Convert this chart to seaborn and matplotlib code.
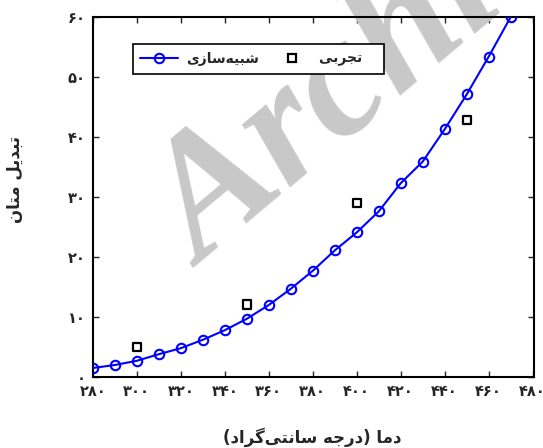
import matplotlib
matplotlib.use("Agg")
import matplotlib.pyplot as plt
import seaborn as sns
import pandas as pd
from matplotlib.lines import Line2D

# ---- data ----
sim_temp = [280, 290, 300, 310, 320, 330, 340, 350, 360, 370,
            380, 390, 400, 410, 420, 430, 440, 450, 460, 470]
sim_conv = [1.5, 2.0, 2.7, 3.8, 4.8, 6.2, 7.8, 9.7, 12.0, 14.7,
            17.7, 21.1, 24.1, 27.6, 32.3, 35.9, 41.3, 47.1, 53.4, 60.0]
exp_temp = [300, 350, 400, 450]
exp_conv = [5.0, 12.1, 29.0, 42.8]
x_ticks = [280, 300, 320, 340, 360, 380, 400, 420, 440, 460, 480]
y_ticks = [0, 10, 20, 30, 40, 50, 60]
label_sim = "شبیه‌سازی"
label_exp = "تجربی"
x_label = "دما (درجه سانتی‌گراد)"
y_label = "تبدیل متان"

# ---- minimal Arabic-script shaping for matplotlib ----
FORMS = {
    'ا': ('\uFE8D', '\uFE8E', None, None),
    'ب': ('\uFE8F', '\uFE90', '\uFE91', '\uFE92'),
    'ت': ('\uFE95', '\uFE96', '\uFE97', '\uFE98'),
    'ج': ('\uFE9D', '\uFE9E', '\uFE9F', '\uFEA0'),
    'د': ('\uFEA9', '\uFEAA', None, None),
    'ر': ('\uFEAD', '\uFEAE', None, None),
    'ز': ('\uFEAF', '\uFEB0', None, None),
    'س': ('\uFEB1', '\uFEB2', '\uFEB3', '\uFEB4'),
    'ش': ('\uFEB5', '\uFEB6', '\uFEB7', '\uFEB8'),
    'ل': ('\uFEDD', '\uFEDE', '\uFEDF', '\uFEE0'),
    'م': ('\uFEE1', '\uFEE2', '\uFEE3', '\uFEE4'),
    'ن': ('\uFEE5', '\uFEE6', '\uFEE7', '\uFEE8'),
    'ه': ('\uFEE9', '\uFEEA', '\uFEEB', '\uFEEC'),
    'ی': ('\uFEEF', '\uFEF0', '\uFEF3', '\uFEF4'),
    'گ': ('\uFB92', '\uFB93', '\uFB94', '\uFB95'),
}


def fa(s):
    out = []
    for i, c in enumerate(s):
        if c not in FORMS:
            out.append(c)
            continue
        prev = s[i - 1] if i > 0 else None
        nxt = s[i + 1] if i + 1 < len(s) else None
        jp = prev in FORMS and FORMS[prev][2] is not None
        jn = FORMS[c][2] is not None and nxt in FORMS
        iso, fin, ini, med = FORMS[c]
        if jp and jn:
            out.append(med)
        elif jp:
            out.append(fin)
        elif jn:
            out.append(ini)
        else:
            out.append(iso)
    t = ''.join(out).replace('\u200c', '')
    t = t[::-1]
    t = t.translate(str.maketrans('()', ')('))
    return t


def fa_num(v):
    return str(v).translate(str.maketrans('0123456789', '۰۱۲۳۴۵۶۷۸۹'))


sns.set_style("white")
plt.rcParams['font.family'] = ['DejaVu Sans']
plt.rcParams['font.weight'] = 'bold'

fig = plt.figure(figsize=(5.43, 4.48), dpi=100)
ax = fig.add_axes([0.171, 0.1585, 0.812, 0.8035])

df_sim = pd.DataFrame({"t": sim_temp, "c": sim_conv})
df_exp = pd.DataFrame({"t": exp_temp, "c": exp_conv})

sns.lineplot(data=df_sim, x="t", y="c", ax=ax, color="#0000ff", lw=1.5,
             marker="o", markersize=6.8, markerfacecolor="none",
             markeredgecolor="#0000ff", markeredgewidth=1.5, zorder=3)
sns.scatterplot(data=df_exp, x="t", y="c", ax=ax, marker="s", s=36,
                facecolor="none", edgecolor="black", linewidth=1.6, zorder=4)

ax.set_xlim(280, 480.5)
ax.set_ylim(0, 60)
ax.set_xticks(x_ticks)
ax.set_xticklabels([fa_num(v) for v in x_ticks], fontsize=10.5, fontweight='bold')
ax.set_yticks(y_ticks)
ax.set_yticklabels([fa_num(v) for v in y_ticks], fontsize=10.5, fontweight='bold')
ax.tick_params(direction='in', length=4, width=1, top=True, right=True,
               bottom=True, left=True, pad=5)
for sp in ax.spines.values():
    sp.set_visible(True)
    sp.set_color('black')
    sp.set_linewidth(1.5)

ax.set_xlabel("")
ax.set_ylabel("")
fig.text(0.575, 0.025, fa(x_label), ha='center', va='center',
         fontsize=12, fontweight='bold')
fig.text(0.028, 0.6, fa(y_label), ha='center', va='center', rotation=90,
         fontsize=12, fontweight='bold')

# watermark
ax.text(0.374, 0.40, "Archive", transform=fig.transFigure, rotation=40,
        rotation_mode='anchor', ha='left', va='baseline',
        fontsize=124, family='Liberation Serif', weight='bold', style='italic',
        color='#c8c8c8', zorder=1, clip_on=False)

handles = [
    Line2D([], [], color="#0000ff", lw=1.5, marker='o', markersize=6.8,
           markerfacecolor='none', markeredgewidth=1.5),
    Line2D([], [], color='black', lw=0, marker='s', markersize=6,
           markerfacecolor='none', markeredgewidth=1.6),
]
leg = ax.legend(handles, [fa(label_sim), fa(label_exp) + "   "], ncol=2,
                loc='upper left', bbox_to_anchor=(0.09, 0.925),
                frameon=True, fancybox=False, framealpha=1,
                edgecolor='black', handlelength=2.7, columnspacing=1.0,
                handletextpad=0.6, borderpad=0.55, borderaxespad=0,
                prop={'size': 10, 'weight': 'bold'})
leg.get_frame().set_linewidth(1.2)
leg.set_zorder(5)

fig.savefig("out.png", dpi=100)
